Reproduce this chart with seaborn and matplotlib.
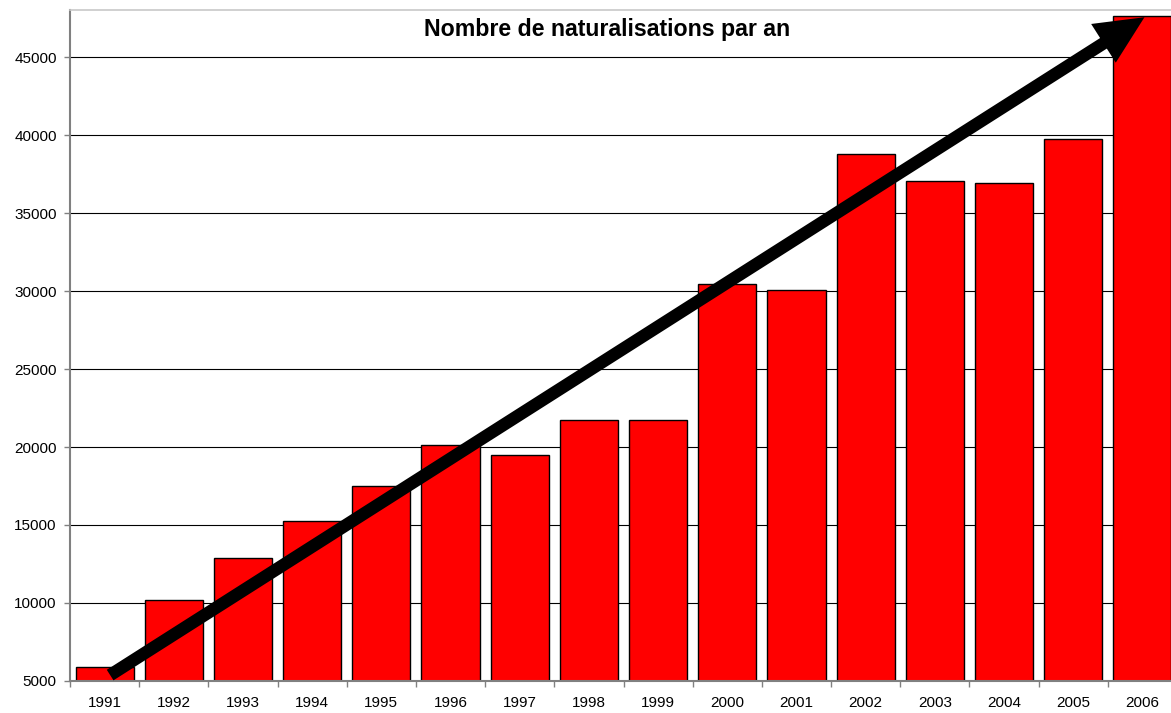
import numpy as np
import pandas as pd
import matplotlib
matplotlib.use("Agg")
import matplotlib.pyplot as plt
import seaborn as sns
from matplotlib.patches import FancyArrowPatch, ArrowStyle

years = ["1991", "1992", "1993", "1994", "1995", "1996", "1997", "1998",
         "1999", "2000", "2001", "2002", "2003", "2004", "2005", "2006"]
naturalisations = [5900, 10200, 12900, 15250, 17500, 20100, 19500, 21700,
                   21700, 30450, 30050, 38800, 37050, 36900, 39750, 47600]
yticks = [5000, 10000, 15000, 20000, 25000, 30000, 35000, 40000, 45000]
title = "Nombre de naturalisations par an"
# trend arrow endpoints (category index, value)
arrow_start = (0.08, 5380)
arrow_end = (15.03, 47550)

sns.set_theme(style="white")
plt.rcParams['font.family'] = ['Liberation Sans', 'DejaVu Sans']

df = pd.DataFrame({"year": years, "n": naturalisations})

fig = plt.figure(figsize=(11.71, 7.13), dpi=100)
W, H = 1171, 713
ax = fig.add_axes([70 / W, 32 / H, 1107 / W, (681 - 10.2) / H])

ax.yaxis.grid(True, color="black", linewidth=0.8)
ax.set_axisbelow(True)

sns.barplot(data=df, x="year", y="n", color="#ff0000", saturation=1,
            edgecolor="black", linewidth=1.0, width=0.84, ax=ax)

ax.set_ylim(5000, 48000)
ax.set_xlim(-0.5, len(years) - 0.5)
ax.set_yticks(yticks)
ax.set_yticklabels([str(v) for v in yticks])
ax.set_xlabel("")
ax.set_ylabel("")

ax.set_xticks(np.arange(-0.5, len(years), 1), minor=True)
ax.tick_params(axis="x", which="major", length=0, pad=11, labelsize=11, colors="black")
ax.tick_params(axis="x", which="minor", length=4.5, width=1.0, color="#808080", direction="out", bottom=True)
ax.tick_params(axis="y", which="major", length=4.5, width=1.0, color="#808080", direction="out",
               left=True, pad=5, labelsize=11, labelcolor="black")

for s in ["left", "bottom"]:
    ax.spines[s].set_color("#808080")
    ax.spines[s].set_linewidth(1.5)
ax.spines["top"].set_color("#c8c8c8")
ax.spines["top"].set_linewidth(1.2)
ax.spines["right"].set_visible(False)

arrow = FancyArrowPatch(arrow_start, arrow_end,
                        arrowstyle=ArrowStyle("simple", head_length=35, head_width=33, tail_width=9),
                        mutation_scale=1, shrinkA=0, shrinkB=0,
                        facecolor="black", edgecolor="black", linewidth=0, zorder=10,
                        transform=ax.transData, clip_on=False)
ax.add_patch(arrow)

fig.text(606.7 / W, 1 - 36 / H, title, ha="center", va="baseline",
         fontsize=16.7, fontweight="bold", color="black")

fig.savefig("out.png", dpi=100)
